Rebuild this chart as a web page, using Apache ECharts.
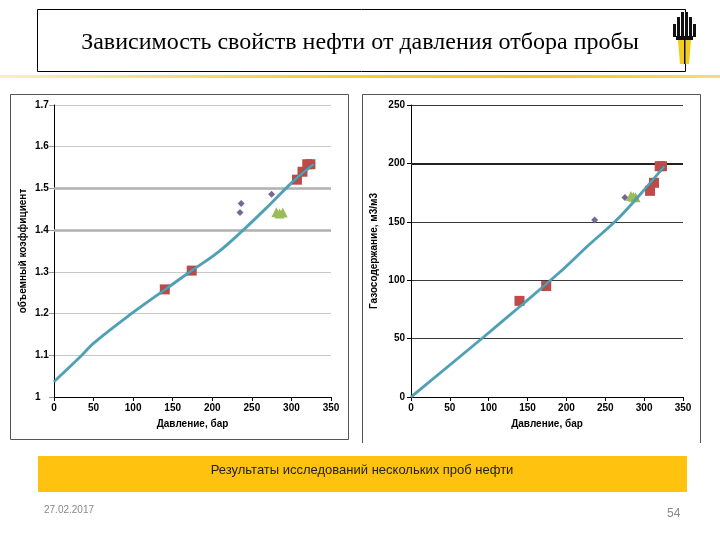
<!DOCTYPE html>
<html><head><meta charset="utf-8">
<script src="https://cdn.jsdelivr.net/npm/echarts@6/dist/echarts.min.js"></script>
<style>html,body{margin:0;padding:0;background:#fff}#c{width:720px;height:540px}</style>
</head><body><div id="c"></div>
<script>
// ---- data ----
const titleText = 'Зависимость свойств нефти от давления отбора пробы';
const captionText = 'Результаты исследований нескольких проб нефти';
const dateText = '27.02.2017';
const pageText = '54';
const xName = 'Давление, бар';
const yNameLeft = 'объемный коэффициент';
const yNameRight = 'Газосодержание, м3/м3';

// Left: volume factor vs pressure
const bvfFit = [[0,1.037],[35,1.1],[50,1.129],[98,1.2],[140,1.257],[174,1.303],[206,1.345],[239,1.4],[273,1.462],[305,1.522],[328,1.558]];
const bvfRed = [[140,1.258],[174,1.303],[307,1.521],[314,1.54],[320,1.558],[324,1.558]];
const bvfPurple = [[235,1.442],[236.5,1.464],[275,1.486]];
const bvfGreen = [[281,1.443],[285,1.44],[289,1.442]];

// Right: gas content vs pressure
const gorFit = [[0,0],[91,50],[141,78],[190,106],[231,131.5],[263,150.5],[293,172],[326,197.5]];
const gorRed = [[139.6,82.3],[174,95],[307.6,176.5],[312.7,183.4],[320,197.6],[323,197.6]];
const gorPurple = [[236.3,151.5],[275.3,170.9]];
const gorGreen = [[283,172],[286,171.5],[289,171]];

const FONT = '"Liberation Sans", Arial, sans-serif';

const chart = echarts.init(document.getElementById('c'), null, {renderer:'canvas'});

function xAxisCfg(gridIndex){
  return {
    type:'value', gridIndex, min:0, max:350, interval:50,
    name:xName, nameLocation:'middle', nameGap:22,
    nameTextStyle:{fontFamily:FONT,fontSize:10,fontWeight:'bold',color:'#000'},
    axisLine:{show:true,lineStyle:{color:'#000',width:1}},
    axisTick:{show:true,length:4,lineStyle:{color:'#000'}},
    axisLabel:{fontFamily:FONT,fontSize:10,fontWeight:'bold',color:'#000',margin:6},
    splitLine:{show:false}
  };
}

const lineStyleFit = {color:'#4BA2B6',width:2.5,shadowColor:'rgba(30,70,90,0.5)',shadowBlur:1};
const redStyle = {color:'#BE4B48',opacity:1};
const purpleStyle = {color:'#76669A',opacity:1};
const greenStyle = {color:'#9BBB59',opacity:1};

const option = {
  animation:false,
  backgroundColor:'#fff',
  grid:[
    {left:54,top:105,width:277,height:292},
    {left:411,top:105,width:272,height:292}
  ],
  xAxis:[xAxisCfg(0), xAxisCfg(1)],
  yAxis:[
    {type:'value',gridIndex:0,min:1,max:1.7,interval:0.1,
     name:yNameLeft,nameLocation:'middle',nameGap:26,
     nameTextStyle:{fontFamily:FONT,fontSize:10,fontWeight:'bold',color:'#000'},
     axisLine:{show:true,lineStyle:{color:'#000',width:1}},
     axisTick:{show:true,length:5,lineStyle:{color:'#999'}},
     axisLabel:{fontFamily:FONT,fontSize:10,fontWeight:'bold',color:'#000',margin:19,align:'left',
       formatter:v=>String(Math.round(v*10)/10)},
     splitLine:{show:true,lineStyle:{color:'#C8C8C8',width:1}}},
    {type:'value',gridIndex:1,min:0,max:250,interval:50,
     name:yNameRight,nameLocation:'middle',nameGap:32,
     nameTextStyle:{fontFamily:FONT,fontSize:10,fontWeight:'bold',color:'#000'},
     axisLine:{show:true,lineStyle:{color:'#000',width:1}},
     axisTick:{show:true,length:4,lineStyle:{color:'#000'}},
     axisLabel:{fontFamily:FONT,fontSize:10,fontWeight:'bold',color:'#000',margin:6},
     splitLine:{show:true,lineStyle:{color:'#3A3A3A',width:1}}}
  ],
  series:[
    {type:'scatter',xAxisIndex:0,yAxisIndex:0,data:bvfRed,symbol:'rect',symbolSize:10,itemStyle:redStyle,z:3,
     markLine:{silent:true,symbol:'none',label:{show:false},lineStyle:{color:'#B0B0B0',width:2.5,type:'solid'},data:[{yAxis:1.4},{yAxis:1.5}],z:1}},
    {type:'scatter',xAxisIndex:0,yAxisIndex:0,data:bvfPurple,symbol:'diamond',symbolSize:7,itemStyle:purpleStyle,z:3},
    {type:'scatter',xAxisIndex:0,yAxisIndex:0,data:bvfGreen,symbol:'triangle',symbolSize:10,itemStyle:greenStyle,z:3},
    {type:'line',xAxisIndex:0,yAxisIndex:0,data:bvfFit,smooth:0.4,showSymbol:false,lineStyle:lineStyleFit,z:4},

    {type:'scatter',xAxisIndex:1,yAxisIndex:1,data:gorRed,symbol:'rect',symbolSize:10,itemStyle:redStyle,z:3,
     markLine:{silent:true,symbol:'none',label:{show:false},lineStyle:{color:'#222',width:2,type:'solid'},data:[{yAxis:200}],z:1}},
    {type:'scatter',xAxisIndex:1,yAxisIndex:1,data:gorPurple,symbol:'diamond',symbolSize:7,itemStyle:purpleStyle,z:3},
    {type:'scatter',xAxisIndex:1,yAxisIndex:1,data:gorGreen,symbol:'triangle',symbolSize:10,itemStyle:greenStyle,z:3},
    {type:'line',xAxisIndex:1,yAxisIndex:1,data:gorFit,smooth:0.4,showSymbol:false,lineStyle:lineStyleFit,z:4}
  ],
  graphic:[
    // title box
    {type:'rect',shape:{x:37.5,y:9.5,width:648,height:62},style:{fill:'#fff',stroke:'#000',lineWidth:1},z:1},
    {type:'text',x:360,y:43,style:{text:titleText,font:'24px "Liberation Serif", "Times New Roman", serif',fill:'#000',textAlign:'center',textVerticalAlign:'middle'},z:2},
    // yellow rule
    {type:'rect',shape:{x:0,y:75,width:720,height:3},
     style:{fill:new echarts.graphic.LinearGradient(0,0,1,0,[{offset:0,color:'#FBEFC0'},{offset:0.4,color:'#F6CF4A'},{offset:0.75,color:'#F4C21A'},{offset:1,color:'#F8DC7A'}])},z:1},
    // logo
    {type:'rect',z:10,shape:{x:673,y:24,width:3,height:13},style:{fill:'#111'}},
    {type:'rect',z:10,shape:{x:677,y:17,width:3,height:21},style:{fill:'#111'}},
    {type:'rect',z:10,shape:{x:681,y:12,width:3,height:26},style:{fill:'#111'}},
    {type:'rect',z:10,shape:{x:685,y:12,width:3,height:26},style:{fill:'#111'}},
    {type:'rect',z:10,shape:{x:689,y:17,width:3,height:21},style:{fill:'#111'}},
    {type:'rect',z:10,shape:{x:693,y:24,width:3,height:13},style:{fill:'#111'}},
    {type:'rect',z:10,shape:{x:676,y:36,width:17,height:4},style:{fill:'#111'}},
    {type:'polygon',z:10,shape:{points:[[678,40],[691,40],[689,64],[680,64]]},style:{fill:'#F2CC1A'}},
    {type:'rect',z:11,shape:{x:684,y:40,width:1.5,height:24},style:{fill:'#111'}},
    // chart frames
    {type:'rect',shape:{x:10.5,y:94.5,width:338,height:345},style:{fill:'none',stroke:'#555',lineWidth:1},z:0},
    {type:'polyline',shape:{points:[[362.5,443],[362.5,94.5],[700.5,94.5],[700.5,443]]},style:{fill:'none',stroke:'#555',lineWidth:1},z:0},
    // caption bar
    {type:'rect',shape:{x:38,y:456,width:649,height:36},style:{fill:'#FFC20E'},z:1},
    {type:'text',x:362,y:470,style:{text:captionText,font:'13px "Liberation Sans", Arial, sans-serif',fill:'#222',textAlign:'center',textVerticalAlign:'middle'},z:2},
    {type:'text',x:44,y:510,style:{text:dateText,font:'10px "Liberation Sans", Arial, sans-serif',fill:'#888',textAlign:'left',textVerticalAlign:'middle'},z:2},
    {type:'text',x:667,y:514,style:{text:pageText,font:'12px "Liberation Sans", Arial, sans-serif',fill:'#888',textAlign:'left',textVerticalAlign:'middle'},z:2}
  ]
};
chart.setOption(option);
</script>
</body></html>
